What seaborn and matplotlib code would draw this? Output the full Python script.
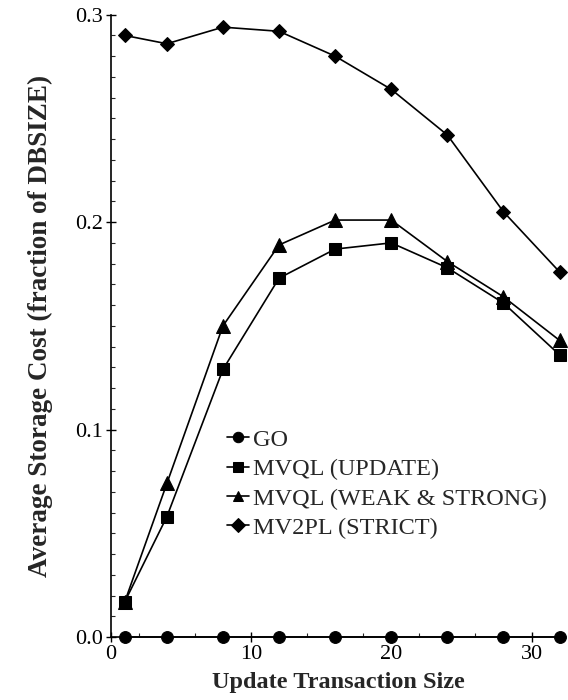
import matplotlib
matplotlib.use("Agg")
import matplotlib.pyplot as plt
from matplotlib.ticker import MultipleLocator, FormatStrFormatter
import pandas as pd
import seaborn as sns

# values
sizes = [1, 4, 8, 12, 16, 20, 24, 28, 32]
go = [0.0, 0.0, 0.0, 0.0, 0.0, 0.0, 0.0, 0.0, 0.0]
mvql_update = [0.017, 0.058, 0.129, 0.173, 0.187, 0.190, 0.178, 0.161, 0.136]
mvql_weak_strong = [0.017, 0.074, 0.150, 0.189, 0.201, 0.201, 0.181, 0.164, 0.143]
mv2pl_strict = [0.290, 0.286, 0.294, 0.292, 0.280, 0.264, 0.242, 0.205, 0.176]

names = ["GO", "MVQL (UPDATE)", "MVQL (WEAK & STRONG)", "MV2PL (STRICT)"]
series = [go, mvql_update, mvql_weak_strong, mv2pl_strict]

rows = []
for name, vals in zip(names, series):
    for x, y in zip(sizes, vals):
        rows.append({"size": x, "cost": y, "scheme": name})
df = pd.DataFrame(rows)

sns.set_theme(style="ticks")
plt.rcParams["font.family"] = ["Liberation Serif", "DejaVu Serif"]

fig = plt.figure(figsize=(5.68, 7.0), dpi=100)
ax = fig.add_axes([0.195, 0.09, 0.80, 0.889])

markers = {"GO": "o", "MVQL (UPDATE)": "s",
           "MVQL (WEAK & STRONG)": "^", "MV2PL (STRICT)": "D"}
sizes_ms = {"GO": 8.5, "MVQL (UPDATE)": 8.5,
            "MVQL (WEAK & STRONG)": 9.5, "MV2PL (STRICT)": 7.5}

for name in names:
    sub = df[df.scheme == name]
    sns.lineplot(data=sub, x="size", y="cost", ax=ax, color="black",
                 marker=markers[name], markersize=sizes_ms[name],
                 markeredgecolor="black", linewidth=1.2, label=name,
                 clip_on=False, zorder=3)

ax.set_xlim(0, 32.4)
ax.set_ylim(0, 0.3)
ax.xaxis.set_major_locator(MultipleLocator(10))
ax.xaxis.set_minor_locator(MultipleLocator(2))
ax.yaxis.set_major_locator(MultipleLocator(0.1))
ax.yaxis.set_minor_locator(MultipleLocator(0.01))
ax.yaxis.set_major_formatter(FormatStrFormatter("%.1f"))
ax.tick_params(which="major", direction="inout", length=7, width=1,
               labelsize=16, colors="black", pad=2)
ax.tick_params(which="minor", direction="in", length=3, width=0.8)
sns.despine(ax=ax)
for s in ["left", "bottom"]:
    ax.spines[s].set_color("black")
    ax.spines[s].set_linewidth(1.2)

ax.set_xlabel("Update Transaction Size", fontsize=17.5, fontweight="bold",
              labelpad=6)
ax.set_ylabel("Average Storage Cost (fraction of DBSIZE)", fontsize=19.5,
              fontweight="bold", labelpad=16)

leg = ax.legend(loc="upper left", bbox_to_anchor=(0.235, 0.35),
                frameon=False, fontsize=17.5, handlelength=0.9,
                handletextpad=0.15, labelspacing=0.3, borderaxespad=0)
for h in leg.legend_handles:
    h.set_markersize(7.5)

fig.savefig("out.png", dpi=100)
